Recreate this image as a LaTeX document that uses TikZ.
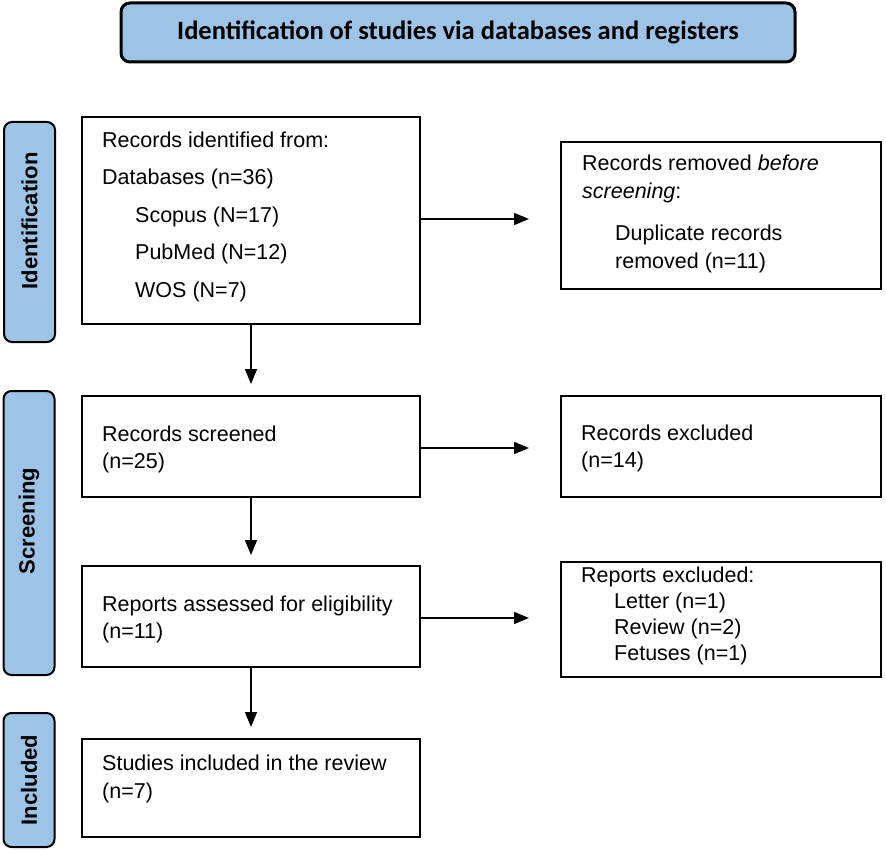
\documentclass[tikz,border=0pt]{standalone}
\usepackage{fontspec}
\setmainfont{Liberation Sans}
\newfontfamily\hdrfont{Carlito}
\usetikzlibrary{arrows.meta,calc}
\definecolor{prismablue}{RGB}{157,195,230}
\begin{document}
\begin{tikzpicture}[x=1pt,y=-1pt,
  hdrbox/.style={draw=black, line width=3pt, fill=prismablue, rounded corners=9pt,
    minimum width=674pt, minimum height=59pt, inner sep=0pt,
    font=\hdrfont\bfseries\fontsize{26.5pt}{30pt}\selectfont},
  sidebox/.style={draw=black, line width=2pt, fill=prismablue, rounded corners=8pt,
    minimum width=51pt, inner sep=0pt},
  sidetxt/.style={rotate=90, inner sep=0pt,
    font=\bfseries\fontsize{22pt}{24pt}\selectfont},
  mainbox/.style={draw=black, line width=2.6pt, inner sep=0pt, outer sep=0pt, anchor=north west},
  txt/.style={align=left, inner sep=0pt, anchor=north west,
    font=\fontsize{21.5pt}{27pt}\selectfont},
  arr/.style={line width=1.5pt, -{Triangle[length=15pt,width=12pt]}}
]
\useasboundingbox (0,0) rectangle (886,850);

% header
\node[hdrbox] (hdr) at (458,32.5) {Identification of studies via databases and registers};

% side bars
\node[sidebox, minimum height=220pt] (sid) at (29.5,232) {};
\node[sidetxt] (sidt) at (29.5,221) {Identification};
\node[sidebox, minimum height=284pt] (sscr) at (29,533) {};
\node[sidetxt] (sscrt) at (29,521) {Screening};
\node[sidebox, minimum height=134pt] (sinc) at (29,780) {};
\node[sidetxt] (sinct) at (29,780) {Included};

% main boxes
\node[mainbox, minimum width=338pt, minimum height=207pt] (b1) at (82,117) {};
\node[mainbox, minimum width=338pt, minimum height=101pt] (b2) at (82,396) {};
\node[mainbox, minimum width=338pt, minimum height=101pt] (b3) at (82,566) {};
\node[mainbox, minimum width=338pt, minimum height=98pt] (b4) at (82,739) {};

% right boxes
\node[mainbox, minimum width=320pt, minimum height=147pt] (r1) at (561,142) {};
\node[mainbox, minimum width=320pt, minimum height=101pt] (r2) at (561,396) {};
\node[mainbox, minimum width=320pt, minimum height=115pt] (r3) at (561,562) {};

% texts
\node[txt, font=\fontsize{21.5pt}{37.5pt}\selectfont] (t1) at (102,131.3)
  {Records identified from:\\Databases (n=36)\\\hspace*{33pt}Scopus (N=17)\\\hspace*{33pt}PubMed (N=12)\\\hspace*{33pt}WOS (N=7)};
\node[txt] (t2) at (102,425.3) {Records screened\\(n=25)};
\node[txt] (t3) at (102,595.3) {Reports assessed for eligibility\\(n=11)};
\node[txt, font=\fontsize{21.5pt}{28pt}\selectfont] (t4) at (102,754.3) {Studies included in the review\\(n=7)};

\node[txt, font=\fontsize{21.5pt}{28pt}\selectfont] (u1) at (582,154.3)
  {Records removed \textit{before}\\\textit{screening}:\\[14pt]\hspace*{33pt}Duplicate records\\\hspace*{33pt}removed (n=11)};
\node[txt] (u2) at (581,424.3) {Records excluded\\(n=14)};
\node[txt, font=\fontsize{21.5pt}{26pt}\selectfont] (u3) at (581,567)
  {Reports excluded:\\\hspace*{33pt}Letter (n=1)\\\hspace*{33pt}Review (n=2)\\\hspace*{33pt}Fetuses (n=1)};

% arrows
\coordinate (h1) at (529,219);
\coordinate (h2) at (529,448);
\coordinate (h3) at (529,618);
\draw[arr] (b1.east |- h1) -- (h1);
\draw[arr] (b2.east |- h2) -- (h2);
\draw[arr] (b3.east |- h3) -- (h3);

\coordinate (d1) at (251,384);
\coordinate (d2) at (251,555);
\coordinate (d3) at (251,727);
\draw[arr] (b1.south) -- (b1.south |- d1);
\draw[arr] (b2.south) -- (b2.south |- d2);
\draw[arr] (b3.south) -- (b3.south |- d3);
\end{tikzpicture}
\end{document}
